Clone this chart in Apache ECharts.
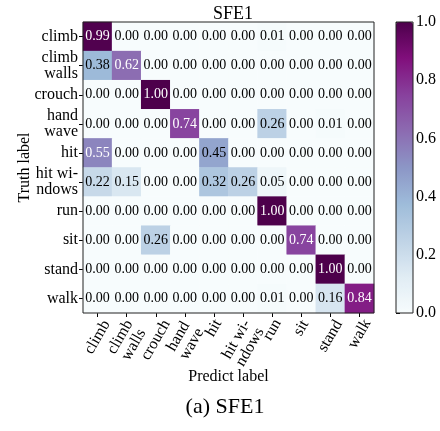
<!DOCTYPE html>
<html>
<head>
<meta charset="utf-8">
<script src="https://cdn.jsdelivr.net/npm/echarts@6/dist/echarts.min.js"></script>
<style>
  html, body { margin: 0; padding: 0; background: #fff; }
  #confMat { width: 440px; height: 431px; }
</style>
</head>
<body>
<div id="confMat"></div>
<script>
// class names (same order for truth and predicted)
var truthLabels = ['climb', 'climb\nwalls', 'crouch', 'hand\nwave', 'hit', 'hit wi-\nndows', 'run', 'sit', 'stand', 'walk']
var predictLabels = ['climb', 'climb\nwalls', 'crouch', 'hand\nwave', 'hit', 'hit wi-\nndows', 'run', 'sit', 'stand', 'walk']

// confusion matrix, one row per truth label
var rowClimb      = [0.99, 0.00, 0.00, 0.00, 0.00, 0.00, 0.01, 0.00, 0.00, 0.00]
var rowClimbWalls = [0.38, 0.62, 0.00, 0.00, 0.00, 0.00, 0.00, 0.00, 0.00, 0.00]
var rowCrouch     = [0.00, 0.00, 1.00, 0.00, 0.00, 0.00, 0.00, 0.00, 0.00, 0.00]
var rowHandWave   = [0.00, 0.00, 0.00, 0.74, 0.00, 0.00, 0.26, 0.00, 0.01, 0.00]
var rowHit        = [0.55, 0.00, 0.00, 0.00, 0.45, 0.00, 0.00, 0.00, 0.00, 0.00]
var rowHitWindows = [0.22, 0.15, 0.00, 0.00, 0.32, 0.26, 0.05, 0.00, 0.00, 0.00]
var rowRun        = [0.00, 0.00, 0.00, 0.00, 0.00, 0.00, 1.00, 0.00, 0.00, 0.00]
var rowSit        = [0.00, 0.00, 0.26, 0.00, 0.00, 0.00, 0.00, 0.74, 0.00, 0.00]
var rowStand      = [0.00, 0.00, 0.00, 0.00, 0.00, 0.00, 0.00, 0.00, 1.00, 0.00]
var rowWalk       = [0.00, 0.00, 0.00, 0.00, 0.00, 0.00, 0.01, 0.00, 0.16, 0.84]

var matrixRows = [rowClimb, rowClimbWalls, rowCrouch, rowHandWave, rowHit,
  rowHitWindows, rowRun, rowSit, rowStand, rowWalk]

// matplotlib BuPu
var buPu = ['#f7fcfd', '#e0ecf4', '#bfd3e6', '#9ebcda', '#8c96c6', '#8c6bb1', '#88419d', '#810f7c', '#4d004b']

var serif = '"Liberation Serif", "DejaVu Serif", serif'
var tickFont = 16
var tickLine = 16

var cells = []
for (var i = 0; i < matrixRows.length; i++) {
  for (var j = 0; j < matrixRows[i].length; j++) {
    var v = matrixRows[i][j]
    cells.push({value: [j, i, v], label: {color: v > 0.5 ? '#fff' : '#000'}})
  }
}

// rotated x labels: mimic matplotlib (bbox centred on the tick, top on a fixed line)
// each label gets its own rich box padding, from its measured length
var ctx = document.createElement('canvas').getContext('2d')
ctx.font = tickFont + 'px ' + serif
var xRich = {}
predictLabels.forEach(function (lab, idx) {
  var lines = lab.split('\n')
  var L = Math.max.apply(null, lines.map(function (s) { return ctx.measureText(s).width }))
  var H = lines.length * tickLine
  var D = Math.round(4 + 0.433 * L + 0.25 * H)
  var P = Math.round(1.732 * D)
  xRich['t' + idx] = {fontFamily: serif, fontSize: tickFont, color: '#000', padding: [D, P, 0, 0]}
  xRich['h' + idx] = {fontFamily: serif, fontSize: tickFont, lineHeight: 15, color: '#000', padding: [0, P, 0, 0]}
})

var chart = echarts.init(document.getElementById('confMat'))
var option = {
  animation: false,
  textStyle: {fontFamily: serif},
  title: [{
    text: 'SFE1',
    left: 228,
    top: 0,
    textAlign: 'center',
    textStyle: {fontFamily: serif, fontWeight: 'normal', fontSize: 18, color: '#000'}
  }, {
    text: '(a) SFE1',
    left: 220,
    top: 391,
    textAlign: 'center',
    textStyle: {fontFamily: serif, fontWeight: 'normal', fontSize: 22, color: '#000'}
  }],
  grid: [{
    left: 83, top: 22, width: 291, height: 291,
    show: true, z: 5,
    backgroundColor: 'rgba(0,0,0,0)',
    borderColor: '#222', borderWidth: 1
  }, {
    left: 396, top: 22, width: 17, height: 291,
    show: true, z: 5,
    backgroundColor: 'rgba(0,0,0,0)',
    borderColor: '#222', borderWidth: 1
  }],
  xAxis: [{
    type: 'category',
    gridIndex: 0,
    data: predictLabels,
    name: 'Predict label',
    nameLocation: 'middle',
    nameGap: 56,
    nameMoveOverlap: false,
    nameTextStyle: {fontFamily: serif, fontSize: 16, color: '#000'},
    axisLine: {show: false},
    axisTick: {show: true, alignWithLabel: true, length: 4, lineStyle: {color: '#000'}},
    axisLabel: {
      rotate: 60, margin: 0, interval: 0,
      align: 'center', verticalAlign: 'middle',
      fontFamily: serif, fontSize: tickFont, color: '#000',
      formatter: function (value, idx) {
        return value.split('\n').map(function (s, k) {
          return '{' + (k === 0 ? 't' : 'h') + idx + '|' + s + '}'
        }).join('\n')
      },
      rich: xRich
    },
    splitLine: {show: false}
  }, {
    type: 'value',
    gridIndex: 1,
    show: false,
    min: 0,
    max: 1
  }],
  yAxis: [{
    type: 'category',
    gridIndex: 0,
    inverse: true,
    data: truthLabels,
    name: 'Truth label',
    nameLocation: 'middle',
    nameGap: 50,
    nameMoveOverlap: false,
    nameTextStyle: {fontFamily: serif, fontSize: 16, color: '#000'},
    axisLine: {show: false},
    axisTick: {show: true, alignWithLabel: true, length: 4, lineStyle: {color: '#000'}},
    axisLabel: {margin: 5, fontFamily: serif, fontSize: tickFont, lineHeight: tickLine, color: '#000', interval: 0},
    splitLine: {show: false}
  }, {
    type: 'value',
    gridIndex: 1,
    position: 'right',
    min: 0,
    max: 1,
    interval: 0.2,
    axisLine: {show: false},
    axisTick: {show: true, length: 4, lineStyle: {color: '#000'}},
    axisLabel: {
      margin: 3, fontFamily: serif, fontSize: 16, color: '#000',
      formatter: function (v) { return v.toFixed(1) }
    },
    splitLine: {show: false}
  }],
  visualMap: {
    type: 'continuous',
    min: 0,
    max: 1,
    seriesIndex: 0,
    dimension: 2,
    calculable: false,
    orient: 'vertical',
    left: 396,
    top: 22,
    itemWidth: 17,
    itemHeight: 291,
    padding: 0,
    z: 1,
    text: null,
    inRange: {color: buPu}
  },
  series: [{
    type: 'heatmap',
    xAxisIndex: 0,
    yAxisIndex: 0,
    data: cells,
    label: {
      show: true,
      fontFamily: serif,
      fontSize: 14,
      formatter: function (p) { return p.value[2].toFixed(2) }
    }
  }]
}

chart.setOption(option)
</script>
</body>
</html>
